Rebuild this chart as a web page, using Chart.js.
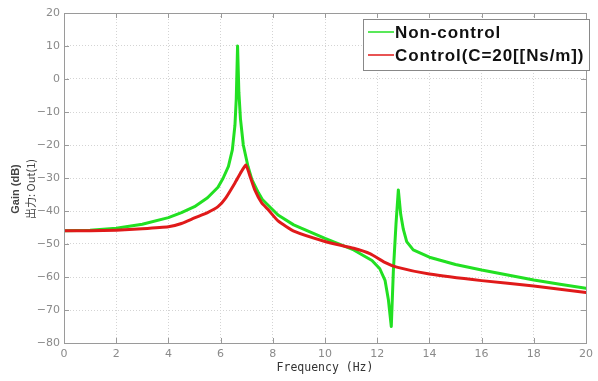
<!DOCTYPE html>
<html>
<head>
<meta charset="utf-8">
<script src="https://cdn.jsdelivr.net/npm/chart.js@4"></script>
<style>
html,body{margin:0;padding:0;background:#fff;}
canvas{display:block;}
</style>
</head>
<body>
<canvas id="c" width="598" height="381"></canvas>
<script>
// ---- data ----
const seriesNames = ['Non-control', 'Control(C=20[[Ns/m])'];
const freqNon = [0, 1, 2, 3, 4, 4.5, 5, 5.5, 5.9, 6.1, 6.3, 6.45, 6.55, 6.6, 6.65, 6.7, 6.76, 6.87, 7.05, 7.2, 7.45, 7.6, 8.2, 8.8, 10, 11.1, 11.8, 12.1, 12.3, 12.43, 12.54, 12.62, 12.72, 12.81, 12.9, 13.0, 13.13, 13.38, 14, 15, 16, 17, 18, 19, 20];
const gainNon = [-46, -45.8, -45.2, -44.0, -42.0, -40.5, -38.7, -36.0, -32.8, -30.0, -26.5, -21.5, -14, -6, 10, -4, -12, -20, -26.5, -30.5, -34.5, -36.5, -41.2, -44.2, -48.3, -51.8, -55, -57.5, -61, -67, -75, -58, -44, -33.6, -41, -45.5, -49.3, -51.8, -54, -56.2, -57.9, -59.4, -60.9, -62.2, -63.4];
const freqCtl = [0, 1, 2, 3, 4, 4.5, 5, 5.5, 5.9, 6.2, 6.55, 6.8, 6.97, 7.15, 7.31, 7.57, 7.81, 8.2, 8.83, 10.03, 11.1, 11.74, 12.25, 12.75, 14, 16, 18, 20];
const gainCtl = [-46, -46, -45.8, -45.4, -44.8, -43.8, -42.1, -40.5, -38.7, -36, -31.5, -28, -26.1, -30, -33.6, -37.5, -39.5, -43, -46.2, -49.3, -51.3, -53, -55.4, -57, -59.1, -61.1, -62.7, -64.7];
const xTicks = [0, 2, 4, 6, 8, 10, 12, 14, 16, 18, 20];
const yTicks = [20, 10, 0, -10, -20, -30, -40, -50, -60, -70, -80];
const xTitle = 'Frequency (Hz)';
const yTitle1 = 'Gain (dB)';
const yTitle2 = '出力: Out(1)';

const GREEN = '#22e022';
const RED = '#e01a1a';

function pts(xs, ys){ return xs.map((x,i)=>({x:x, y:ys[i]})); }
function fmt(v){ return v < 0 ? '\u2212' + Math.abs(v) : String(v); }

const framePlugin = {
  id: 'frame',
  afterDraw(chart){
    const ctx = chart.ctx, a = chart.chartArea;
    const xs = chart.scales.x, ys = chart.scales.y;
    ctx.save();
    ctx.strokeStyle = '#9a9a9a';
    ctx.lineWidth = 1;
    ctx.setLineDash([]);
    ctx.strokeRect(Math.round(a.left)+0.5, Math.round(a.top)+0.5, Math.round(a.right-a.left), Math.round(a.bottom-a.top));
    // inner tick marks
    ctx.beginPath();
    xTicks.forEach(v=>{
      const px = Math.round(xs.getPixelForValue(v))+0.5;
      ctx.moveTo(px, a.bottom); ctx.lineTo(px, a.bottom-5);
      ctx.moveTo(px, a.top); ctx.lineTo(px, a.top+5);
    });
    yTicks.forEach(v=>{
      const py = Math.round(ys.getPixelForValue(v))+0.5;
      ctx.moveTo(a.left, py); ctx.lineTo(a.left+5, py);
      ctx.moveTo(a.right, py); ctx.lineTo(a.right-5, py);
    });
    ctx.stroke();

    // y axis titles (two lines, rotated)
    const cy = 189;
    ctx.fillStyle = '#444';
    ctx.textAlign = 'center';
    ctx.textBaseline = 'middle';
    ctx.save();
    ctx.translate(16, cy);
    ctx.rotate(-Math.PI/2);
    ctx.font = 'bold 11px "Liberation Sans", Arial, sans-serif';
    ctx.fillText(yTitle1, 0, 0);
    ctx.restore();
    ctx.save();
    ctx.translate(31, cy);
    ctx.rotate(-Math.PI/2);
    ctx.font = '11px "Noto Sans CJK JP", sans-serif';
    ctx.fillText(yTitle2, 0, 0);
    ctx.restore();

    // legend box
    const lx = 363, ly = 19, lw = 226, lh = 51;
    ctx.fillStyle = '#fff';
    ctx.fillRect(lx, ly, lw, lh);
    ctx.strokeStyle = '#888';
    ctx.lineWidth = 1;
    ctx.strokeRect(lx+0.5, ly+0.5, lw, lh);
    const rows = [[seriesNames[0], GREEN, 32], [seriesNames[1], RED, 55]];
    rows.forEach(r=>{
      ctx.beginPath();
      ctx.strokeStyle = r[1];
      ctx.lineWidth = 1.5;
      ctx.moveTo(368, r[2]); ctx.lineTo(394, r[2]);
      ctx.stroke();
    });
    ctx.font = 'bold 17px "Liberation Sans", Arial, sans-serif';
    ctx.letterSpacing = '0.9px';
    ctx.textAlign = 'left';
    ctx.textBaseline = 'middle';
    ctx.fillStyle = '#111';
    rows.forEach(r=>{ ctx.fillText(r[0], 395, r[2]+1); });
    ctx.restore();
  }
};

new Chart(document.getElementById('c'), {
  type: 'line',
  data: {
    datasets: [
      { label: seriesNames[1], data: pts(freqCtl, gainCtl), borderColor: RED, borderWidth: 3, pointRadius: 0, tension: 0.15, order: 0, borderJoinStyle: 'round', borderCapStyle: 'round' },
      { label: seriesNames[0], data: pts(freqNon, gainNon), borderColor: GREEN, borderWidth: 3, pointRadius: 0, tension: 0, order: 1, borderJoinStyle: 'round', borderCapStyle: 'round' }
    ]
  },
  options: {
    responsive: false,
    animation: false,
    devicePixelRatio: 1,
    layout: { padding: { left: 0, right: 7, top: 13, bottom: 0 } },
    plugins: { legend: { display: false }, tooltip: { enabled: false } },
    scales: {
      x: {
        type: 'linear', min: 0, max: 20,
        afterBuildTicks: s => { s.ticks = xTicks.map(v=>({value:v})); },
        afterFit: s => { s.height = 38; },
        ticks: { color: '#8a8a8a', font: { size: 11, family: '"DejaVu Sans", sans-serif' }, padding: 5, maxRotation: 0, callback: v => fmt(v) },
        grid: { color: '#d4d4d4', lineWidth: 1, drawTicks: false },
        border: { display: false, dash: [1, 2] },
        title: { display: true, text: xTitle, color: '#333', font: { size: 11.5, family: '"DejaVu Sans Mono", monospace' }, padding: { top: 0, bottom: 6 } }
      },
      y: {
        type: 'linear', min: -80, max: 20,
        afterBuildTicks: s => { s.ticks = yTicks.map(v=>({value:v})); },
        afterFit: s => { s.width = 64; },
        ticks: { color: '#8a8a8a', font: { size: 11, family: '"DejaVu Sans", sans-serif' }, padding: 4, callback: v => fmt(v) },
        grid: { color: '#d4d4d4', lineWidth: 1, drawTicks: false },
        border: { display: false, dash: [1, 2] }
      }
    }
  },
  plugins: [framePlugin]
});
</script>
</body>
</html>
